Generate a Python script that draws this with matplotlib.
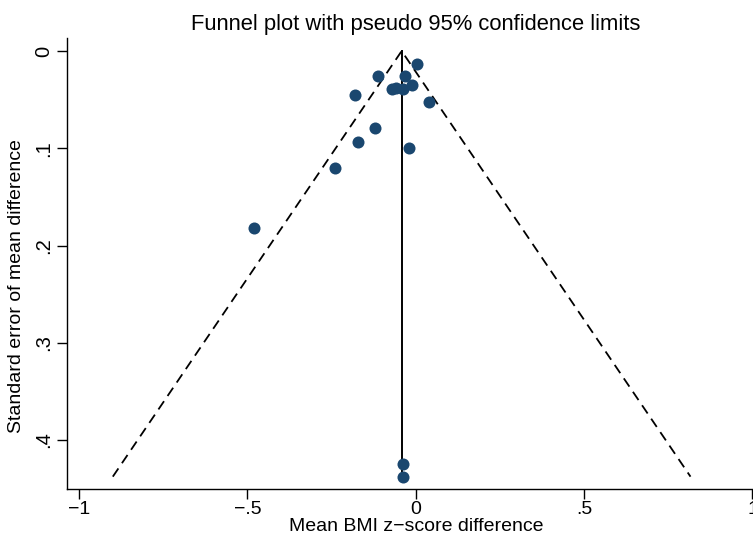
import matplotlib
matplotlib.use("Agg")
import matplotlib.pyplot as plt

# study estimates (mean difference) and their standard errors
effect = [0.003, -0.111, -0.031, -0.181, -0.072, -0.059, -0.039, -0.010,
          0.039, -0.120, -0.171, -0.021, -0.241, -0.481, -0.037, -0.037]
se = [0.0137, 0.0254, 0.0254, 0.0452, 0.0394, 0.0377, 0.0394, 0.0350,
      0.0528, 0.0789, 0.0939, 0.0994, 0.1203, 0.1825, 0.4250, 0.4377]
pooled = -0.042

xticks = [-1, -0.5, 0, 0.5, 1]
xticklabels = ["\u22121", "\u2212.5", "0", ".5", "1"]
yticks = [0, 0.1, 0.2, 0.3, 0.4]
yticklabels = ["0", ".1", ".2", ".3", ".4"]

plt.rcParams['font.family'] = ['Liberation Sans', 'DejaVu Sans']

fig = plt.figure(figsize=(7.53, 5.40), dpi=100)
ax = fig.add_axes([0.0886, 0.0939, 0.9114, 0.8352])

se_max = max(se)
ax.plot([pooled - 1.96 * se_max, pooled, pooled + 1.96 * se_max],
        [se_max, 0, se_max], color='black', lw=1.3, dashes=(5.5, 3.5))
ax.plot([pooled, pooled], [0, se_max], color='black', lw=1.4)
ax.scatter(effect, se, s=75, color='#1a476f', zorder=3, linewidths=0)

ax.set_xlim(-1.0368, 1.0015)
ax.set_ylim(0.4507, -0.0131)

ax.set_xticks(xticks)
ax.set_xticklabels(xticklabels, fontsize=14)
ax.set_yticks(yticks)
ax.set_yticklabels(yticklabels, fontsize=14.5, rotation=90, va='center')
ax.tick_params(length=7, width=1, pad=3)
ax.tick_params(axis='x', pad=1.5)

for side in ['top', 'right']:
    ax.spines[side].set_visible(False)
for side in ['left', 'bottom']:
    ax.spines[side].set_linewidth(1)

ax.set_xlabel("Mean BMI z\u2212score difference", fontsize=14, labelpad=0)
ax.xaxis.label.set_x(0.509)
ax.set_ylabel("Standard error of mean difference", fontsize=14, labelpad=6)
ax.yaxis.label.set_y(0.451)
ax.set_title("Funnel plot with pseudo 95% confidence limits", fontsize=15.8,
             x=0.509, pad=6)

fig.savefig("out.png", dpi=100)
